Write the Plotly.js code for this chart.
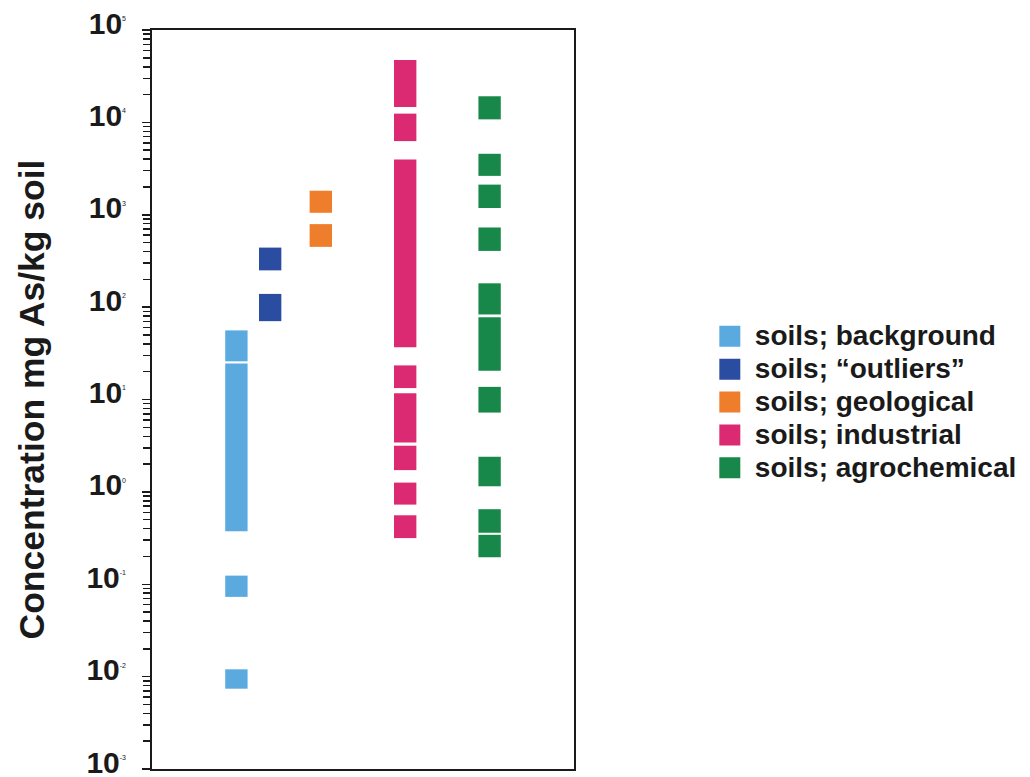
<!DOCTYPE html>
<html>
<head>
<meta charset="utf-8">
<script src="https://cdn.plot.ly/plotly-3.0.1.min.js"></script>
<style>html,body{margin:0;padding:0;background:#fff;}#chart{width:1030px;height:777px;}</style>
</head>
<body>
<div id="chart"></div>
<script>
// ---- data (mg As / kg soil) ----
var categories = ['soils; background', 'soils; \u201coutliers\u201d', 'soils; geological', 'soils; industrial', 'soils; agrochemical'];

var backgroundHigh = [56, 24.6, 0.124, 0.012];
var backgroundLow  = [25.9, 0.374, 0.073, 0.0074];

var outliersHigh = [441, 139];
var outliersLow  = [250, 70.5];

var geologicalHigh = [1820, 792];
var geologicalLow  = [1050, 449];

var industrialHigh = [47200, 12440, 3960, 23.4, 11.7, 3.16, 1.26, 0.558];
var industrialLow  = [14660, 6270, 36.7, 13.3, 3.43, 1.72, 0.728, 0.316];

var agrochemicalHigh = [19170, 4570, 2120, 728, 181, 77.9, 13.7, 2.40, 0.649, 0.343];
var agrochemicalLow  = [10780, 2635, 1183, 406, 83.3, 20.5, 7.22, 1.15, 0.361, 0.196];

var tickExponents = [-3, -2, -1, 0, 1, 2, 3, 4, 5];

// ---- layout / style constants ----
var columnX = [20, 28, 40, 60, 80];
var colors = ['#5AAAE0', '#2B4DA1', '#EE7E2C', '#DC2A72', '#17884A'];
var highs = [backgroundHigh, outliersHigh, geologicalHigh, industrialHigh, agrochemicalHigh];
var lows = [backgroundLow, outliersLow, geologicalLow, industrialLow, agrochemicalLow];

var traces = [];
categories.forEach(function (name, i) {
  var hi = highs[i], lo = lows[i];
  traces.push({
    type: 'bar',
    name: name,
    x: hi.map(function () { return columnX[i]; }),
    y: hi.map(function (h, k) { return h - lo[k]; }),
    base: lo,
    width: 5.3,
    marker: { color: colors[i], line: { width: 0 } },
    showlegend: false,
    hoverinfo: 'skip'
  });
});
// legend entries (large square keys)
categories.forEach(function (name, i) {
  traces.push({
    type: 'scatter', mode: 'markers',
    name: '<span style="font-size:28px">' + name + '</span>',
    x: [null], y: [null],
    marker: { symbol: 'square', size: 16, color: colors[i], line: { color: colors[i], width: 5 } },
    showlegend: true
  });
});

var tickvals = [], ticktext = [], minorvals = [];
tickExponents.forEach(function (e, idx) {
  tickvals.push(Math.pow(10, e));
  ticktext.push('10<sup><span style="font-size:7px;font-weight:normal">' + e + '</span></sup>');
  if (idx < tickExponents.length - 1) {
    for (var m = 2; m <= 9; m++) minorvals.push(m * Math.pow(10, e));
  }
});

var layout = {
  width: 1030, height: 777,
  margin: { l: 152, r: 454, t: 30, b: 8, pad: 0 },
  paper_bgcolor: '#ffffff', plot_bgcolor: '#ffffff',
  barmode: 'overlay',
  showlegend: true,
  font: { family: 'Liberation Sans, Arial, sans-serif', color: '#1a1a1a' },
  xaxis: {
    range: [0, 100], showgrid: false, zeroline: false, showticklabels: false, ticks: '',
    showline: true, linecolor: '#1a1a1a', linewidth: 2, mirror: true, fixedrange: true
  },
  yaxis: {
    type: 'log', range: [-3, 5], showgrid: false, zeroline: false,
    tickmode: 'array', tickvals: tickvals, ticktext: ticktext,
    ticks: 'outside', ticklen: 8, tickwidth: 1.5, tickcolor: '#1a1a1a',
    minor: { tickmode: 'array', tickvals: minorvals, ticks: 'outside', ticklen: 7, tickwidth: 1.5, tickcolor: '#1a1a1a', showgrid: false },
    tickfont: { size: 30, weight: 'bold', color: '#1a1a1a' },
    ticklabelstandoff: 10, ticklabelshift: -7, ticklabeloverflow: 'allow',
    showline: true, linecolor: '#1a1a1a', linewidth: 2, mirror: true,
    title: { text: 'Concentration mg As/kg soil', font: { size: 35.5, weight: 'bold', color: '#1a1a1a' }, standoff: 31 },
    fixedrange: true
  },
  legend: {
    x: 1.31, xanchor: 'left', y: 0.6146, yanchor: 'top',
    font: { size: 23, weight: 'bold', color: '#1a1a1a' },
    itemwidth: 40, bgcolor: 'rgba(0,0,0,0)', tracegroupgap: 0
  }
};

Plotly.newPlot('chart', traces, layout, { displayModeBar: false, staticPlot: true });
</script>
</body>
</html>
